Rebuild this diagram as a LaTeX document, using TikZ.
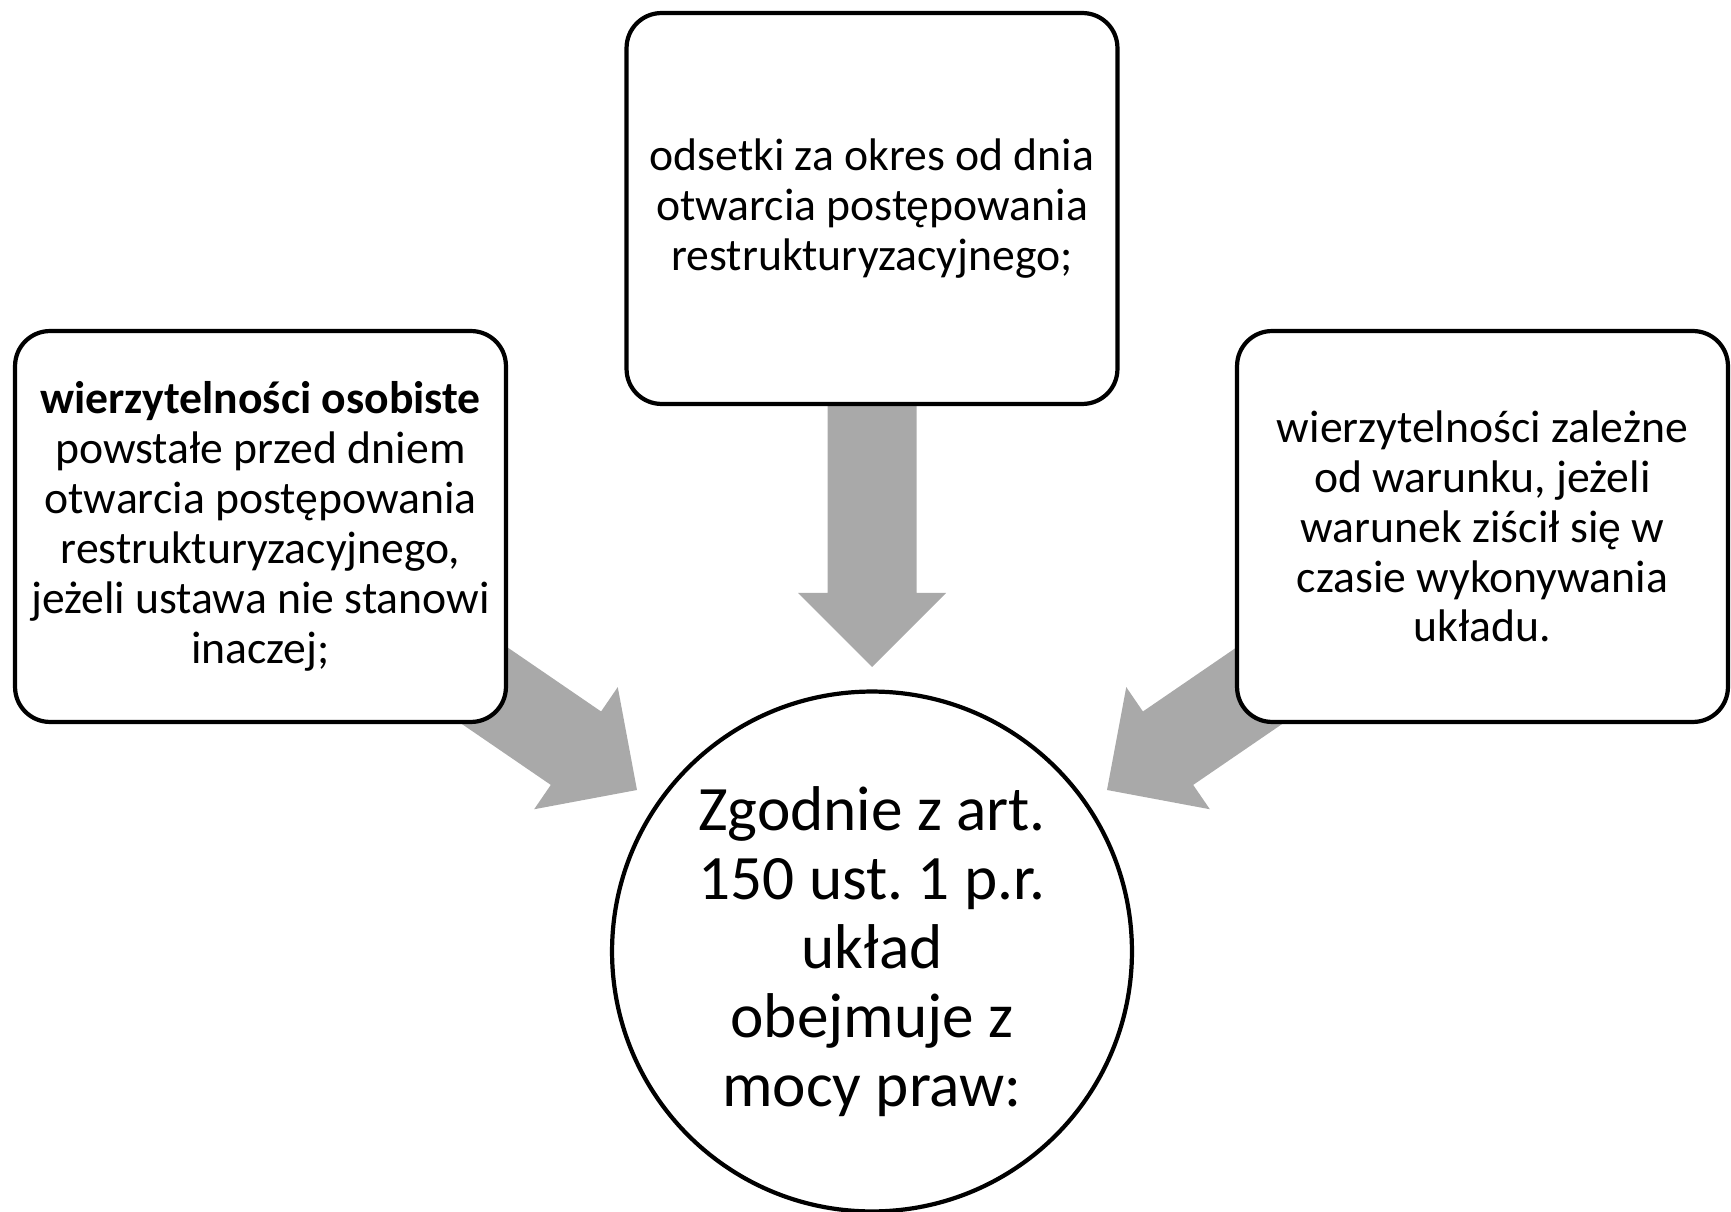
\documentclass[tikz,border=0pt]{standalone}
\usepackage{fontspec}
\setmainfont{Carlito}
\definecolor{arrowgray}{RGB}{169,169,169}
\frenchspacing
\begin{document}
\begin{tikzpicture}[x=0.02cm,y=-0.02cm,
  box/.style={draw=black, line width=2.4pt, rounded corners=0.7cm, fill=white,
    minimum width=9.82cm, minimum height=7.82cm, align=center, inner sep=0pt,
    font=\fontsize{26}{28.4}\selectfont},
  hub/.style={draw=black, line width=2.4pt, circle, fill=white, minimum size=10.4cm,
    align=center, inner sep=0pt, font=\fontsize{36}{39.3}\selectfont},
  blockarrow/.style={fill=arrowgray, draw=none}]
\useasboundingbox (0,0) rectangle (1731,1212);
% block arrows (drawn first, behind boxes)
\begin{scope}[shift={(872,667)}, rotate=-90]
  \fill[blockarrow] (0,0) -- (-74,74) -- (-74,44.5) -- (-300,44.5) -- (-300,-44.5) -- (-74,-44.5) -- (-74,-74) -- cycle;
\end{scope}
\begin{scope}[shift={(637,790)}, rotate=-34.4]
  \fill[blockarrow] (0,0) -- (-74,74) -- (-74,44.5) -- (-280,44.5) -- (-280,-44.5) -- (-74,-44.5) -- (-74,-74) -- cycle;
\end{scope}
\begin{scope}[shift={(1107,790)}, rotate=214.4]
  \fill[blockarrow] (0,0) -- (-74,74) -- (-74,44.5) -- (-280,44.5) -- (-280,-44.5) -- (-74,-44.5) -- (-74,-74) -- cycle;
\end{scope}
% boxes
\node[box] (left) at (260.5,526.5) {\textbf{wierzytelności osobiste}\\powstałe przed dniem\\otwarcia postępowania\\restrukturyzacyjnego,\\jeżeli ustawa nie stanowi\\inaczej;};
\node[box] (top) at (872,208.5) {odsetki za okres od dnia\\otwarcia postępowania\\restrukturyzacyjnego;};
\node[box] (right) at (1482.5,526.5) {wierzytelności zależne\\od warunku, jeżeli\\warunek ziścił się w\\czasie wykonywania\\układu.};
\node[hub] (hub) at (872,951.5) {Zgodnie z art.\\150 ust. 1 p.r.\\układ\\obejmuje z\\mocy praw:};
\end{tikzpicture}
\end{document}
